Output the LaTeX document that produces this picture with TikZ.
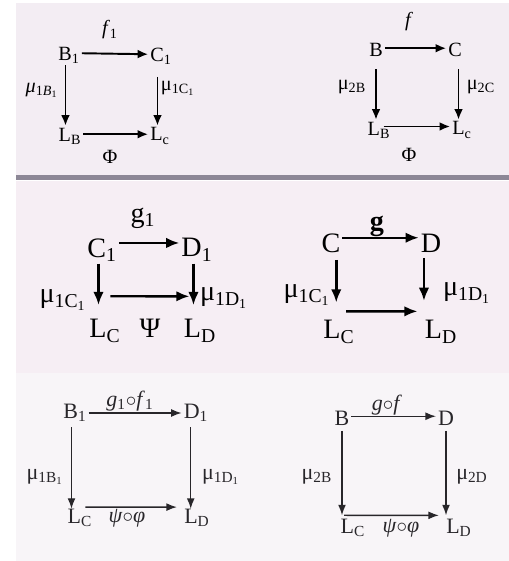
\documentclass[tikz,border=0pt]{standalone}
\usepackage{fontspec}
\setmainfont{Liberation Serif}
\usetikzlibrary{arrows.meta}
\definecolor{paperA}{RGB}{243,237,243}
\definecolor{paperB}{RGB}{246,238,244}
\definecolor{paperC}{RGB}{248,245,248}
\definecolor{band}{RGB}{140,135,150}
\definecolor{ink}{RGB}{40,38,42}
\newcommand{\sbs}[1]{\textsubscript{#1}}
\tikzset{
  arr/.style={->, line width=1.1pt},
  arrm/.style={-{Latex[length=7.5pt,width=6pt]}, line width=1.4pt},
  arrb/.style={-{Latex[length=6pt,width=4.5pt]}, line width=0.8pt, draw=ink},
  topobj/.style={inner sep=1pt, font=\fontsize{11.5}{13}\selectfont},
  midobj/.style={inner sep=1pt, font=\fontsize{16}{18}\selectfont},
  botobj/.style={inner sep=1pt, font=\fontsize{12.5}{14}\selectfont, text=ink}
}
\begin{document}
\begin{tikzpicture}[x=0.02cm, y=-0.02cm, >={Latex[length=6pt,width=5pt]}]
  \useasboundingbox (0,0) rectangle (509,561);
  \fill[paperA] (16,3) rectangle (509,176);
  \fill[paperB] (16,181) rectangle (509,373);
  \fill[paperC] (16,373) rectangle (509,561);
  \fill[band] (16,175) rectangle (509,180);

  % f_1 square
  \node[topobj] (b1) at (69,55) {B\sbs{1}};
  \node[topobj] (c1) at (161,56) {C\sbs{1}};
  \node[topobj] (lb) at (70,136) {L\sbs{B}};
  \node[topobj] (lc) at (160,136) {L\sbs{c}};
  \node[topobj] (f1) at (110,30) {\textit{f}\sbs{1}};
  \node[topobj] (mub1) at (42,90) {\textit{μ}\sbs{1\textit{B}\sbs{1}}};
  \node[topobj] (muc1) at (178,88) {μ\sbs{1C\sbs{1}}};
  \node[topobj] (phi) at (110,157) {Φ};
  \draw[arr] ([yshift=1pt]b1.east) -- ([yshift=1pt]c1.west);
  \draw[arr] ([xshift=-2pt]b1.south) -- ([xshift=-2pt]b1.south |- lb.north);
  \draw[arr, shorten <=6pt] ([xshift=-2pt]c1.south) -- ([xshift=-2pt]c1.south |- lc.north);
  \draw[arr] ([yshift=1pt]lb.east) -- ([yshift=1pt]lc.west);

  % f square
  \node[topobj] (b) at (376,50) {B};
  \node[topobj] (c) at (455,50) {C};
  \node[topobj] (lb2) at (379,130) {L\sbs{B}};
  \node[topobj] (lc2) at (462,130) {L\sbs{c}};
  \node[topobj] (f) at (409,22) {\textit{f}};
  \node[topobj] (mu2b) at (352,87) {μ\sbs{2B}};
  \node[topobj] (mu2c) at (481,87) {μ\sbs{2C}};
  \node[topobj] (phi2) at (409,155) {Φ};
  \draw[arr] ([yshift=1pt]b.east) -- ([yshift=1pt]c.west);
  \draw[arr, shorten <=6pt] (b.south) -- (b.south |- lb2.north);
  \draw[arr, shorten <=6pt] ([xshift=2pt]c.south) -- ([xshift=2pt]c.south |- lc2.north);
  \draw[arr] ([xshift=-5pt,yshift=2pt]lb2.east) -- ([yshift=2pt]lc2.west);

  % g_1 square
  \node[midobj] (c1m) at (102,250) {C\sbs{1}};
  \node[midobj] (d1m) at (197,250) {D\sbs{1}};
  \node[midobj] (lcm) at (105,331) {L\sbs{C}};
  \node[midobj] (ldm) at (200,331) {L\sbs{D}};
  \node[midobj] (g1) at (143,218) {g\sbs{1}};
  \node[midobj] (psi) at (150,328) {Ψ};
  \node[midobj] (muc1m) at (63,300) {μ\sbs{1C\sbs{1}}};
  \node[midobj] (mud1m) at (224,298) {μ\sbs{1D\sbs{1}}};
  \draw[arrm] ([yshift=4pt]c1m.east) -- ([yshift=4pt]d1m.west);
  \draw[arrm] ([xshift=-2pt]c1m.south) -- ([xshift=-2pt,yshift=7pt]c1m.south |- lcm.north);
  \draw[arrm] ([xshift=-2pt]d1m.south) -- ([xshift=-2pt,yshift=7pt]d1m.south |- ldm.north);
  \draw[arrm] ([shift={(3pt,12pt)}]lcm.north) -- ([shift={(-6pt,12pt)}]ldm.north);

  % g square
  \node[midobj] (cm) at (331,243) {C};
  \node[midobj] (dm) at (431,243) {D};
  \node[midobj] (lcm2) at (339,332) {L\sbs{C}};
  \node[midobj] (ldm2) at (441,332) {L\sbs{D}};
  \node[midobj] (g) at (377,226) {\textbf{g}};
  \node[midobj] (muc1m2) at (307,295) {μ\sbs{1C\sbs{1}}};
  \node[midobj] (mud1m2) at (467,293) {μ\sbs{1D\sbs{1}}};
  \draw[arrm] ([yshift=3pt]cm.east) -- ([yshift=3pt]dm.west);
  \draw[arrm, shorten <=3pt] ([xshift=3pt]cm.south) -- ([xshift=3pt,yshift=9pt]cm.south |- lcm2.north);
  \draw[arrm, shorten <=2pt] ([xshift=-4pt]dm.south) -- ([xshift=-4pt,yshift=10pt]dm.south |- ldm2.north);
  \draw[arrm] ([shift={(4pt,4pt)}]lcm2.north) -- ([shift={(-3pt,4pt)}]ldm2.north west);

  % g_1 o f_1 square
  \node[botobj] (b1b) at (75,413) {B\sbs{1}};
  \node[botobj] (d1b) at (196,413) {D\sbs{1}};
  \node[botobj] (lcb) at (80,518) {L\sbs{C}};
  \node[botobj] (ldb) at (197,518) {L\sbs{D}};
  \node[botobj] (gf1) at (130,401) {\textit{g}\sbs{1}$\circ$\textit{f}\sbs{1}};
  \node[botobj] (mub1b) at (45,477) {μ\sbs{1B\sbs{1}}};
  \node[botobj] (mud1b) at (221,477) {μ\sbs{1D\sbs{1}}};
  \node[botobj] (pp1) at (127,518) {\textit{ψ}$\circ$\textit{φ}};
  \draw[arrb] (b1b.east) -- (d1b.west);
  \draw[arrb, shorten <=2pt] ([xshift=-2pt]b1b.south) -- ([xshift=-2pt,yshift=-1pt]b1b.south |- lcb.north);
  \draw[arrb, shorten <=2pt] ([xshift=-3pt]d1b.south) -- ([xshift=-3pt,yshift=-1pt]d1b.south |- ldb.north);
  \draw[arrb] ([shift={(3pt,0pt)}]lcb.north) -- ([shift={(-3pt,0pt)}]ldb.north west);

  % g o f square
  \node[botobj] (bb) at (342,418) {B};
  \node[botobj] (db) at (446,418) {D};
  \node[botobj] (lcb2) at (353,528) {L\sbs{C}};
  \node[botobj] (ldb2) at (459,528) {L\sbs{D}};
  \node[botobj] (gf) at (387,405) {\textit{g}$\circ$\textit{f}};
  \node[botobj] (mu2bb) at (317,477) {μ\sbs{2B}};
  \node[botobj] (mu2db) at (472,477) {μ\sbs{2D}};
  \node[botobj] (pp) at (401,528) {\textit{ψ}$\circ$\textit{φ}};
  \draw[arrb] ([yshift=1pt]bb.east) -- ([yshift=1pt]db.west);
  \draw[arrb, shorten <=2pt] (bb.south) -- ([yshift=1pt]bb.south |- lcb2.north);
  \draw[arrb, shorten <=2pt] (db.south) -- ([yshift=1pt]db.south |- ldb2.north);
  \draw[arrb] ([shift={(-5pt,1pt)}]lcb2.north) -- ([shift={(-3pt,1pt)}]ldb2.north west);
\end{tikzpicture}
\end{document}
